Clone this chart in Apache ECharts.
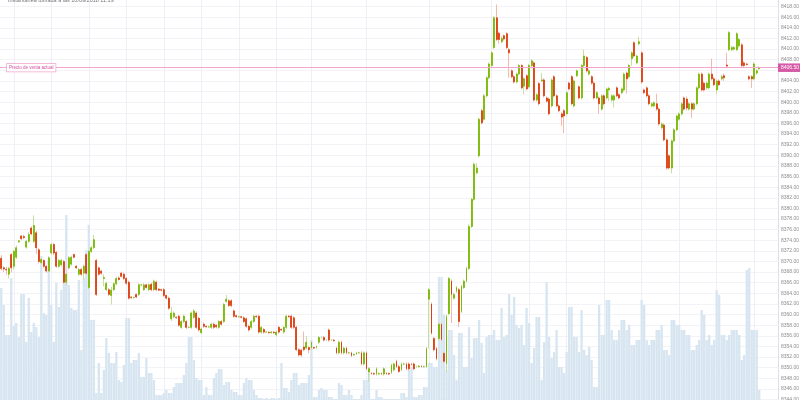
<!DOCTYPE html>
<html><head><meta charset="utf-8">
<script src="https://cdn.jsdelivr.net/npm/echarts@6/dist/echarts.min.js"></script>
<style>html,body{margin:0;padding:0;background:#fff;overflow:hidden}#c{width:800px;height:420px;margin-top:-4px}</style>
</head><body><div id="c"></div>
<script>
const titleText = 'Instantánea tomada a las 10/09/2018 11:19';
const currentLabel = 'Precio de venta actual';
const currentPrice = 8406.5;
const priceMin = 8342, priceMax = 8420, priceStep = 2;

// [open, close, low, high]
const ohlc = [
[8370.6,8368.7,8368.3,8371.2],[8368.8,8368.6,8368.0,8369.1],[8368.5,8368.4,8367.5,8369.0],[8367.6,8368.7,8366.8,8369.0],
[8371.3,8368.8,8367.9,8371.6],[8369.1,8371.9,8368.5,8372.2],[8370.8,8372.6,8370.5,8373.0],[8373.7,8373.9,8373.5,8374.0],
[8374.8,8374.3,8374.0,8375.0],[8374.7,8374.5,8374.2,8375.0],[8372.7,8373.8,8372.4,8374.1],[8373.8,8375.1,8373.5,8375.5],
[8376.3,8375.2,8374.9,8376.6],[8373.8,8376.8,8373.5,8378.7],[8375.4,8372.6,8371.4,8375.8],[8372.2,8370.0,8369.6,8372.5],
[8369.8,8370.4,8369.5,8370.7],[8370.2,8369.1,8368.8,8370.4],[8369.1,8368.2,8367.9,8369.3],[8368.2,8370.7,8367.9,8371.0],
[8371.6,8373.2,8371.3,8373.5],[8373.2,8371.6,8371.2,8373.5],[8371.7,8369.1,8368.8,8372.0],[8369.1,8370.2,8368.8,8370.5],
[8369.4,8370.2,8369.0,8370.5],[8370.0,8366.1,8365.8,8370.3],[8366.1,8367.6,8365.5,8367.9],[8368.8,8370.7,8368.5,8371.0],
[8369.5,8370.8,8369.2,8371.1],[8371.3,8370.8,8370.6,8371.5],[8369.1,8368.8,8368.6,8369.3],[8367.6,8368.5,8367.3,8368.8],
[8368.5,8367.6,8367.3,8368.8],[8367.8,8369.1,8366.6,8369.4],[8371.3,8367.8,8367.5,8371.6],[8365.1,8371.9,8364.8,8372.2],
[8371.9,8372.6,8371.6,8372.9],[8372.6,8374.1,8372.3,8375.0],[8370.2,8363.8,8363.5,8370.5],[8368.8,8367.6,8367.3,8369.0],
[8368.2,8367.8,8367.5,8368.4],[8366.8,8367.0,8365.3,8367.6],[8364.7,8365.9,8364.4,8366.2],[8364.7,8363.8,8363.5,8365.0],
[8363.6,8364.6,8361.9,8365.2],[8364.7,8365.8,8364.4,8366.1],[8365.8,8366.8,8365.5,8367.1],[8366.9,8366.6,8366.4,8367.2],
[8367.8,8367.2,8367.0,8368.1],[8367.6,8366.8,8366.5,8367.9],[8366.8,8365.9,8365.6,8367.1],[8366.1,8363.1,8362.8,8366.4],
[8363.3,8363.2,8362.9,8363.5],[8363.2,8363.2,8363.0,8363.4],[8363.8,8363.3,8363.1,8364.0],[8363.8,8365.6,8363.5,8365.9],
[8365.6,8365.6,8365.4,8365.8],[8364.7,8365.6,8364.4,8365.9],[8365.6,8365.1,8364.9,8365.8],[8364.7,8365.6,8364.4,8365.9],
[8365.7,8364.7,8364.4,8366.0],[8364.7,8366.3,8364.4,8366.6],[8366.1,8364.7,8364.4,8366.4],[8364.8,8364.6,8364.4,8365.0],
[8364.7,8364.6,8364.4,8364.9],[8364.7,8363.6,8363.3,8365.0],[8363.6,8363.1,8362.8,8363.8],[8363.1,8361.2,8360.9,8363.4],
[8359.2,8360.3,8358.8,8361.5],[8359.6,8360.3,8359.3,8360.6],[8359.5,8359.4,8359.2,8359.7],[8359.7,8358.0,8357.7,8360.0],
[8357.6,8358.7,8357.3,8359.0],[8358.7,8359.7,8358.4,8360.0],[8358.7,8357.6,8357.3,8359.0],[8357.6,8357.6,8357.4,8357.8],
[8357.6,8360.3,8357.3,8360.6],[8359.5,8360.7,8359.2,8361.0],[8360.3,8357.6,8357.3,8360.6],[8359.3,8357.1,8356.8,8359.6],
[8356.6,8357.3,8356.3,8357.6],[8358.2,8357.8,8357.5,8358.5],[8357.8,8357.7,8357.5,8358.0],[8357.7,8357.7,8357.5,8357.9],
[8357.6,8358.2,8357.3,8358.5],[8358.2,8357.6,8357.3,8358.5],[8358.0,8357.7,8357.4,8358.2],[8357.6,8358.7,8357.3,8359.0],
[8358.7,8358.2,8357.9,8359.0],[8358.7,8361.9,8358.4,8362.2],[8362.5,8362.9,8362.2,8363.7],[8362.6,8361.7,8361.4,8362.9],
[8362.6,8361.7,8361.4,8362.9],[8360.7,8359.7,8359.4,8361.0],[8359.8,8359.6,8359.4,8360.0],[8359.6,8359.6,8359.4,8359.8],
[8359.6,8359.5,8359.3,8359.8],[8359.4,8358.7,8358.4,8359.7],[8359.2,8357.8,8357.5,8359.5],[8357.8,8357.1,8356.8,8358.1],
[8357.6,8358.7,8357.3,8359.0],[8358.7,8359.7,8358.4,8360.0],[8359.7,8359.6,8359.4,8359.9],[8359.7,8356.7,8356.4,8360.0],
[8356.7,8357.6,8356.4,8357.9],[8357.2,8356.7,8356.4,8357.5],[8356.7,8356.7,8356.5,8356.9],[8356.7,8356.6,8356.4,8356.8],
[8356.6,8356.7,8356.4,8356.9],[8356.7,8356.6,8356.4,8356.9],[8356.2,8356.7,8355.9,8357.0],[8357.6,8356.7,8356.4,8357.9],
[8357.2,8357.1,8356.9,8357.4],[8356.7,8357.6,8356.4,8357.9],[8357.6,8359.7,8357.3,8360.0],[8359.7,8359.6,8359.4,8359.9],
[8359.7,8357.6,8357.3,8360.0],[8359.4,8357.6,8357.3,8359.7],[8357.6,8353.4,8353.1,8357.9],[8353.4,8352.4,8352.1,8353.7],
[8353.3,8352.4,8352.0,8353.6],[8353.9,8353.4,8353.1,8356.8],[8353.7,8354.8,8353.4,8356.0],[8353.8,8353.4,8352.7,8354.0],
[8353.7,8354.8,8353.4,8355.1],[8353.8,8353.7,8353.5,8354.0],[8353.8,8354.0,8353.6,8354.2],[8354.8,8355.7,8354.5,8356.0],
[8355.7,8355.7,8355.5,8355.9],[8355.7,8355.2,8354.9,8356.0],[8355.2,8355.2,8355.0,8355.4],[8357.1,8355.2,8354.9,8357.4],
[8355.2,8355.2,8355.0,8355.4],[8355.2,8355.1,8354.9,8355.4],[8353.7,8352.8,8352.5,8354.0],[8352.8,8354.8,8352.5,8355.1],
[8354.8,8352.8,8352.5,8355.1],[8352.8,8353.7,8352.5,8354.0],[8353.7,8352.8,8352.5,8354.0],[8352.8,8352.8,8352.6,8353.0],
[8352.8,8352.3,8352.0,8353.0],[8352.4,8352.5,8352.2,8352.7],[8352.6,8352.8,8352.4,8353.0],[8352.8,8352.8,8352.6,8353.0],
[8352.8,8350.7,8350.4,8353.1],[8350.7,8352.8,8350.4,8353.1],[8352.8,8349.8,8349.5,8353.1],[8349.2,8349.8,8347.4,8350.1],
[8349.0,8348.9,8348.7,8349.2],[8348.9,8348.8,8348.6,8349.1],[8348.8,8349.8,8348.5,8350.1],[8348.8,8348.9,8348.6,8349.1],
[8348.9,8348.8,8348.6,8349.1],[8348.8,8349.8,8348.5,8350.1],[8349.0,8348.9,8348.6,8349.2],[8348.9,8348.8,8348.6,8349.1],
[8349.1,8350.5,8348.8,8350.8],[8349.6,8350.7,8349.3,8351.0],[8351.2,8350.2,8349.9,8351.5],[8350.2,8349.3,8349.0,8350.5],
[8349.6,8350.7,8349.3,8351.0],[8350.7,8350.7,8350.5,8350.9],[8350.7,8349.8,8349.5,8351.0],[8350.7,8349.8,8349.5,8351.0],
[8350.7,8350.6,8350.4,8350.9],[8350.7,8349.8,8349.5,8351.0],[8350.2,8350.2,8350.0,8350.4],[8350.2,8350.3,8350.0,8350.5],
[8350.3,8350.2,8350.0,8350.5],[8350.2,8350.2,8350.0,8350.4],
[8350.2,8353.6,8349.9,8353.9],[8362.9,8364.7,8353.6,8365.0],[8362.0,8356.5,8356.2,8362.3],[8355.5,8353.4,8353.1,8355.8],
[8353.6,8351.7,8351.4,8353.9],[8355.5,8358.2,8355.2,8358.5],[8358.2,8355.3,8355.0,8358.5],[8352.7,8351.2,8350.9,8353.0],
[8350.8,8359.7,8349.2,8360.0],[8360.2,8366.8,8359.9,8367.1],[8366.3,8363.8,8358.4,8366.6],[8363.1,8363.8,8362.8,8364.1],
[8364.4,8365.1,8364.1,8365.4],[8364.7,8358.7,8357.7,8365.0],[8360.6,8365.3,8360.3,8365.6],[8365.1,8366.3,8364.8,8366.6],
[8366.3,8368.7,8366.0,8369.0],[8368.7,8376.6,8368.4,8377.0],[8376.6,8381.7,8376.3,8382.0],[8381.7,8388.3,8381.4,8388.6],
[8386.7,8387.6,8386.4,8388.5],[8389.9,8396.8,8389.6,8397.1],[8398.4,8396.1,8395.8,8398.7],[8396.8,8401.2,8396.5,8401.5],
[8401.2,8404.6,8400.9,8404.9],[8404.6,8407.2,8404.3,8407.5],[8406.9,8409.3,8406.6,8409.6],[8410.3,8415.9,8410.0,8416.2],
[8415.9,8411.8,8411.5,8418.4],[8413.0,8411.8,8411.0,8413.3],[8411.4,8412.0,8411.1,8412.5],[8412.5,8411.9,8411.6,8412.8],
[8412.9,8410.3,8410.0,8413.2],[8409.9,8409.3,8404.6,8410.2],[8405.9,8404.8,8404.5,8406.2],[8404.8,8403.8,8403.5,8405.1],
[8403.8,8405.3,8403.5,8405.6],[8405.3,8406.9,8405.0,8407.2],[8406.9,8402.7,8402.4,8407.2],[8403.0,8404.4,8401.5,8404.7],
[8405.0,8402.5,8402.2,8405.3],[8402.9,8406.9,8402.6,8407.2],[8406.9,8407.8,8406.6,8408.1],[8407.4,8400.4,8400.1,8407.7],
[8400.4,8401.4,8400.1,8401.7],[8403.5,8399.7,8399.4,8403.8],[8404.0,8404.2,8403.8,8405.5],[8404.2,8401.2,8400.9,8404.5],
[8400.8,8400.2,8399.9,8401.1],[8400.6,8397.8,8397.5,8400.9],[8399.3,8404.2,8399.0,8404.5],[8404.8,8401.2,8400.9,8405.1],
[8401.2,8399.3,8399.0,8401.5],[8399.3,8398.4,8398.1,8399.6],[8397.8,8397.2,8395.5,8398.1],[8398.4,8397.4,8394.2,8398.7],
[8397.8,8401.8,8397.5,8402.1],[8403.6,8402.5,8402.2,8403.9],[8404.8,8399.7,8399.4,8405.1],[8399.3,8404.0,8399.0,8404.3],
[8405.0,8405.9,8404.7,8406.2],[8402.9,8400.8,8400.5,8403.2],
[8400.8,8406.9,8400.5,8407.2],[8406.9,8408.7,8406.6,8409.9],[8408.4,8405.9,8405.6,8408.7],[8405.3,8405.9,8405.0,8406.2],
[8404.8,8403.6,8403.3,8405.1],[8403.6,8400.8,8400.5,8403.9],[8400.8,8401.8,8400.5,8402.1],[8400.8,8399.7,8397.8,8401.1],
[8398.7,8401.2,8398.4,8401.5],[8401.2,8399.7,8399.4,8401.5],[8400.8,8402.5,8400.5,8402.8],[8402.3,8402.6,8400.2,8402.9],
[8400.4,8401.2,8400.1,8401.5],[8400.4,8401.2,8399.0,8401.5],[8402.7,8401.2,8400.9,8403.0],[8401.4,8400.8,8400.5,8401.7],
[8401.8,8402.5,8401.5,8402.8],[8402.3,8405.3,8402.0,8405.6],[8405.5,8404.4,8401.6,8405.8],[8404.8,8406.9,8404.5,8407.2],
[8408.2,8409.3,8406.9,8409.6],[8411.2,8408.7,8408.4,8411.5],[8407.4,8408.7,8407.1,8409.0],[8411.0,8411.4,8410.7,8412.3],
[8409.3,8403.8,8403.5,8409.6],[8402.3,8401.8,8401.5,8402.6],[8402.7,8401.2,8400.9,8403.0],[8401.2,8399.7,8399.4,8401.5],
[8399.3,8399.7,8399.0,8400.0],[8399.3,8399.9,8399.0,8400.2],[8399.7,8398.7,8398.4,8401.6],[8398.7,8395.9,8395.6,8399.0],
[8395.2,8395.9,8394.9,8396.2],[8395.7,8392.9,8392.6,8396.0],[8392.9,8387.6,8387.3,8393.2],[8389.9,8387.6,8387.3,8390.2],
[8387.6,8392.7,8386.6,8393.0],[8392.7,8394.8,8392.4,8395.1],[8394.8,8397.4,8394.5,8397.7],[8396.8,8397.8,8396.5,8398.1],
[8397.8,8399.7,8397.5,8400.0],[8400.8,8398.7,8398.4,8401.1],[8400.6,8398.9,8398.4,8401.1],[8398.7,8399.7,8398.4,8400.0],
[8399.7,8398.7,8397.0,8400.0],[8398.7,8399.7,8398.4,8400.0],[8399.7,8402.7,8399.4,8403.0],[8402.7,8405.3,8402.4,8405.6],
[8405.3,8402.3,8402.0,8405.6],[8403.6,8402.3,8402.0,8403.9],[8402.7,8403.6,8402.4,8403.9],[8402.7,8405.3,8402.4,8405.6],
[8405.3,8404.4,8404.1,8408.2],[8404.4,8403.3,8403.0,8404.7],[8402.3,8404.0,8401.5,8404.3],[8404.0,8403.3,8403.0,8404.3],
[8404.4,8404.8,8404.1,8405.1],[8405.0,8404.6,8404.0,8405.4],[8407.0,8406.8,8406.6,8409.3],[8409.9,8413.1,8409.6,8413.4],
[8409.9,8410.3,8409.6,8410.6],[8410.0,8410.3,8409.7,8410.6],[8409.9,8412.9,8409.6,8413.2],[8410.6,8411.8,8410.3,8412.1],
[8410.8,8406.9,8406.6,8411.1],[8407.4,8406.9,8406.6,8407.7],[8407.2,8407.1,8406.9,8407.4],[8404.8,8404.4,8404.1,8405.1],
[8404.8,8404.4,8402.7,8405.1],[8404.4,8407.2,8404.1,8407.5],[8405.5,8405.9,8405.2,8406.2],[8406.3,8406.5,8406.1,8406.8]
];

const volumes = [
112,95,65,65,122,74,77,63,106,106,
58,102,68,77,73,63,144,87,85,140,
95,58,117,93,110,118,185,115,92,90,
90,120,50,122,150,175,80,80,7,37,
7,30,62,47,37,37,48,20,18,35,
82,82,37,40,40,47,23,23,42,27,
27,20,5,5,5,7,10,7,7,13,
17,17,17,25,37,63,63,40,22,20,
20,5,13,5,5,22,27,31,31,15,
18,18,10,8,8,5,5,17,22,20,
20,10,5,2,2,1,2,1,2,2,
1,2,37,12,12,8,20,27,27,15,
17,17,17,25,60,3,3,10,12,10,
10,3,3,1,1,17,15,5,5,10,
5,1,1,1,5,20,20,33,1,1,
10,3,3,1,1,1,1,1,1,1,
7,7,3,33,33,3,3,5,5,13,
13,37,37,33,33,123,123,85,30,70,
70,45,20,67,67,33,33,73,42,62,
62,80,57,27,63,65,65,70,60,60,
92,63,65,106,85,103,75,72,75,55,
92,77,37,52,83,83,20,58,118,63,
42,48,70,33,33,27,48,93,93,63,
63,48,90,50,45,53,40,13,13,95,
65,65,100,100,70,60,60,70,80,80,
70,75,55,55,60,60,100,95,60,55,
60,60,70,70,75,50,50,45,80,80,
75,75,70,70,65,65,50,50,55,60,
90,85,60,65,55,60,110,105,65,65,
60,65,70,70,70,65,40,45,130,132,
70,70,70,10
];

// candle indexes where the time grid lines fall
const timeGridIdx = [5,20,35,50,65,80,95,110,124,146,171,196,211,226,241,256,271,286,301];
const emptySlots = 7;

const N = ohlc.length + emptySlots;
const categories = Array.from({length: N}, (_, i) => String(i));
const bodies = ohlc.map(([o, c]) => [o, c, Math.min(o, c), Math.max(o, c)]);

const FONT = 'Liberation Sans, Arial, sans-serif';
const UP = '#77b800', DOWN = '#dc3c0c';
const UP_W = '#c6e09c', DOWN_W = '#f3b9aa';
const SHIFT = 4; // chart canvas sits 4px above the page top

const chart = echarts.init(document.getElementById('c'), null, {renderer: 'canvas'});
const option = {
  animation: false,
  backgroundColor: '#fff',
  textStyle: {fontFamily: FONT},
  grid: [
    {left: 0, right: 22, top: 0, height: 414.18, outerBoundsMode: 'none', containLabel: false},
    {left: 0, right: 22, top: 200 + SHIFT, height: 200, outerBoundsMode: 'none', containLabel: false}
  ],
  xAxis: [
    {type: 'category', gridIndex: 0, data: categories, boundaryGap: true,
     axisLine: {show: false}, axisTick: {show: false}, axisLabel: {show: false}, splitLine: {show: false}},
    {type: 'category', gridIndex: 1, data: categories, boundaryGap: true,
     axisLine: {show: false}, axisTick: {show: false}, axisLabel: {show: false}, splitLine: {show: false}}
  ],
  yAxis: [
    {type: 'value', gridIndex: 0, position: 'right', min: priceMin, max: priceMax, interval: priceStep,
     axisLine: {show: true, lineStyle: {color: '#dedeee', width: 1}},
     axisTick: {show: false},
     axisLabel: {fontSize: 5, color: '#8c8c8c', margin: 3, fontFamily: FONT, showMinLabel: false, showMaxLabel: false,
                 formatter: v => v.toFixed(2)},
     splitLine: {show: true, lineStyle: {color: '#f3f3f7', width: 1}}},
    {type: 'value', gridIndex: 1, min: 0, max: 200, show: false, splitLine: {show: false}}
  ],
  series: [
    {type: 'line', xAxisIndex: 0, yAxisIndex: 0, data: [], silent: true, z: 0,
     markLine: {silent: true, symbol: ['none', 'none'], animation: false, z: 0,
       label: {show: false},
       lineStyle: {color: '#efeff7', width: 1, type: 'solid'},
       data: timeGridIdx.map(i => ({xAxis: i}))}},
    {type: 'bar', xAxisIndex: 1, yAxisIndex: 1, data: volumes, barWidth: '92%', silent: true, z: 1,
     itemStyle: {color: '#d7e5f1'}},
    {type: 'candlestick', xAxisIndex: 0, yAxisIndex: 0, data: ohlc, barWidth: 1, silent: true, z: 2,
     itemStyle: {color: UP_W, color0: DOWN_W, borderColor: UP_W, borderColor0: DOWN_W, borderWidth: 1}},
    {type: 'candlestick', xAxisIndex: 0, yAxisIndex: 0, data: bodies, barWidth: 1.4, silent: true, z: 3, clip: false,
     itemStyle: {color: UP, color0: DOWN, borderColor: UP, borderColor0: DOWN, borderWidth: 0.8},
     markLine: {silent: true, symbol: ['none', 'none'], animation: false,
       lineStyle: {color: '#f3a6cf', width: 1, type: 'solid'},
       label: {show: true, position: 'end', distance: 0, formatter: currentPrice.toFixed(2),
               color: '#fff', backgroundColor: '#d65aa6', padding: [2, 3, 1.5, 3], fontSize: 5, fontFamily: FONT},
       data: [{yAxis: currentPrice}]}}
  ]
};
chart.setOption(option);
const yCur = chart.convertToPixel({yAxisIndex: 0}, currentPrice);
chart.setOption({
  graphic: [
    {type: 'text', x: 8, y: 3.6 + SHIFT, z: 20, silent: true,
     style: {text: titleText, fill: '#777', fontSize: 5.5, fontFamily: FONT, verticalAlign: 'bottom', align: 'left'}},
    {type: 'text', x: 7, y: yCur, z: 20, silent: true,
     style: {text: currentLabel, fill: '#d44d9b', fontSize: 4.5, fontFamily: FONT, verticalAlign: 'middle', align: 'left',
             backgroundColor: '#fff', borderColor: '#eea3cb', borderWidth: 0.7, padding: [1.5, 2, 1, 2]}}
  ]
});
</script>
</body></html>
